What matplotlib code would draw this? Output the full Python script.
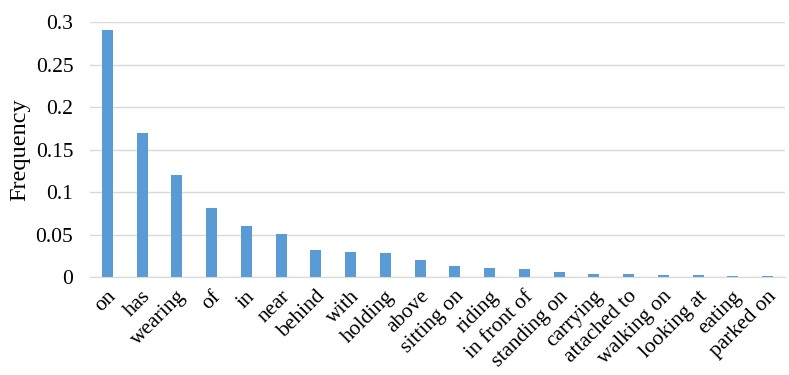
import matplotlib
matplotlib.use('Agg')
import matplotlib.pyplot as plt
import matplotlib.transforms as mtransforms
import numpy as np

# predicate labels and their frequencies
predicates = ["on", "has", "wearing", "of", "in", "near", "behind", "with", "holding",
              "above", "sitting on", "riding", "in front of", "standing on", "carrying",
              "attached to", "walking on", "looking at", "eating", "parked on"]
freq = [0.291, 0.170, 0.120, 0.081, 0.060, 0.051, 0.032, 0.030, 0.028,
        0.020, 0.013, 0.011, 0.009, 0.006, 0.004,
        0.004, 0.003, 0.002, 0.0015, 0.0015]
yticks = [0, 0.05, 0.1, 0.15, 0.2, 0.25, 0.3]
ytick_labels = ["0", "0.05", "0.1", "0.15", "0.2", "0.25", "0.3"]

plt.rcParams['font.family'] = ['Liberation Serif', 'DejaVu Serif']

fig = plt.figure(figsize=(7.89, 3.75), dpi=100)
ax = fig.add_axes([0.114, 0.261, 0.881, 0.68])

x = np.arange(len(predicates))
ax.bar(x, freq, width=0.32, color='#5B9BD5', zorder=3)

ax.set_xlim(-0.5, len(predicates) - 0.5)
ax.set_ylim(0, 0.3)
ax.set_yticks(yticks)
ax.set_yticklabels(ytick_labels, fontsize=15.5)
ax.set_xticks(x)
ax.set_xticklabels(predicates, rotation=45, ha='right', va='center',
                   rotation_mode='anchor', fontsize=15.5)
ax.tick_params(length=0)
ax.tick_params(axis='y', pad=12)
ax.tick_params(axis='x', pad=12)

# nudge the rotated labels a little to the right, like the original
shift = mtransforms.ScaledTranslation(6 / 100, 0, fig.dpi_scale_trans)
for lbl in ax.get_xticklabels():
    lbl.set_transform(lbl.get_transform() + shift)

ax.grid(axis='y', color='#D9D9D9', linewidth=1, zorder=0)
for s in ['top', 'right', 'left']:
    ax.spines[s].set_visible(False)
ax.spines['bottom'].set_color('#D9D9D9')
ax.spines['bottom'].set_zorder(4)

ax.set_ylabel("Frequency", fontsize=17.5)
ax.yaxis.set_label_coords(-0.086, 0.5)

fig.savefig('out.png', dpi=100)
